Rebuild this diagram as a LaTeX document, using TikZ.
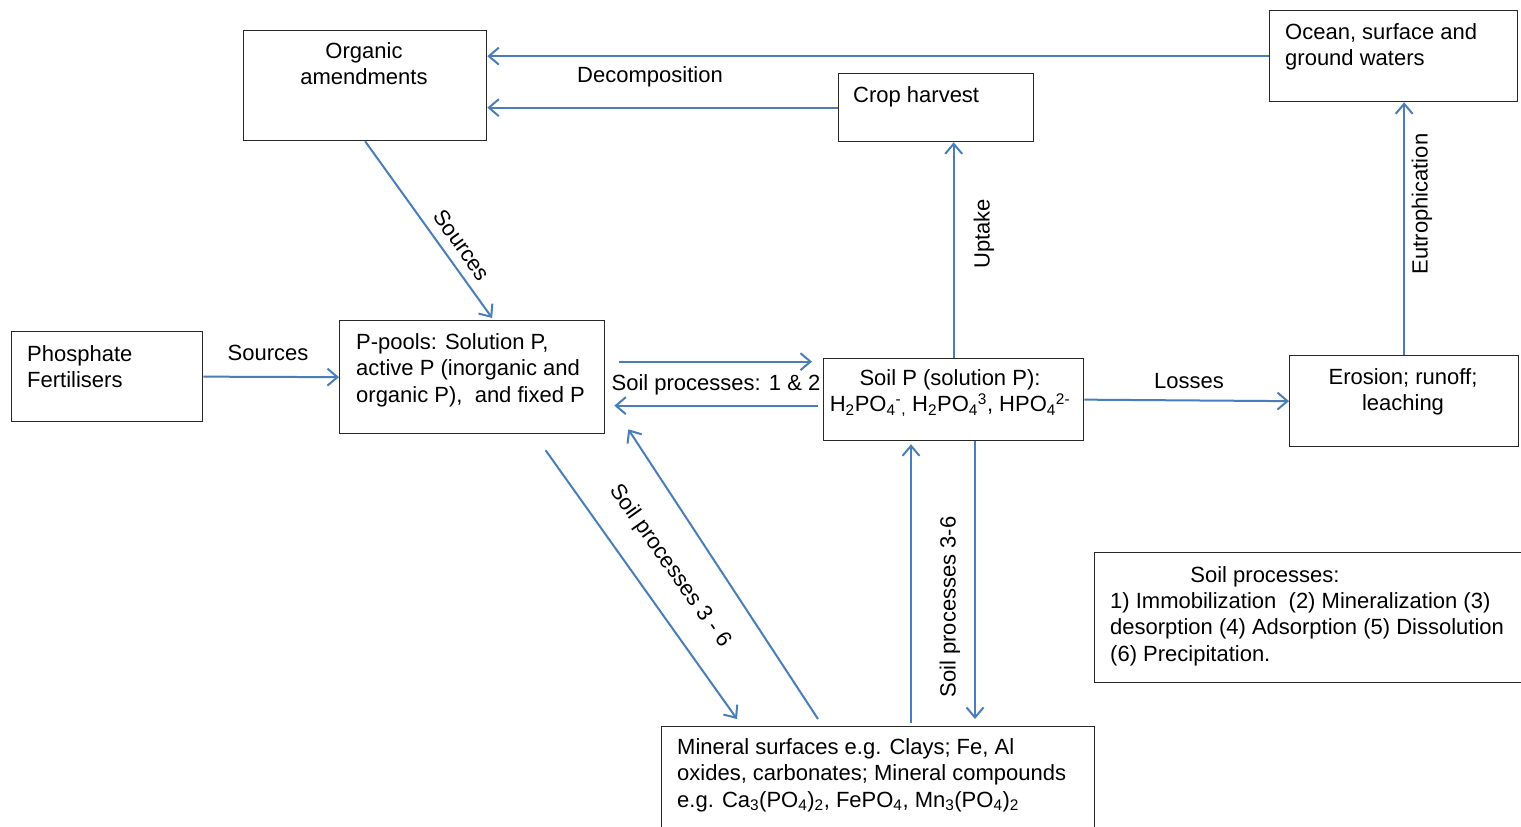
\documentclass[tikz,border=0pt]{standalone}
\usepackage{fontspec}
\setmainfont{Liberation Sans}
\usetikzlibrary{arrows.meta,calc}
\definecolor{flowblue}{RGB}{74,126,187}
\definecolor{edgegray}{RGB}{40,40,40}
\tikzset{
  box/.style={draw=edgegray, line width=1.3pt, anchor=north west, inner sep=0pt},
  txt/.style={inner sep=0pt, font=\fontsize{22}{26.6}\selectfont},
  arr/.style={draw=flowblue, line width=2pt,
    -{Straight Barb[length=10pt,width=17pt,line width=2pt]}}
}
\begin{document}
\begin{tikzpicture}[x=1pt,y=-1pt]
\useasboundingbox (0,0) rectangle (1521,827);
\fill[white] (0,0) rectangle (1521,827);

% boxes
\node[box, minimum width=243pt, minimum height=110pt] (org) at (243,30) {};
\node[box, minimum width=248pt, minimum height=91pt] (ocean) at (1269,10) {};
\node[box, minimum width=195pt, minimum height=68pt] (crop) at (838,73) {};
\node[box, minimum width=191pt, minimum height=90pt] (fert) at (11,331) {};
\node[box, minimum width=265pt, minimum height=113pt] (ppool) at (339,320) {};
\node[box, minimum width=260pt, minimum height=82pt] (soilp) at (823,358) {};
\node[box, minimum width=229pt, minimum height=91pt] (eros) at (1289,355) {};
\node[box, minimum width=440pt, minimum height=130pt] (legend) at (1094,552) {};
\node[box, minimum width=433pt, minimum height=120pt] (mineral) at (661,726) {};

% box texts
\node[txt, anchor=north, align=center] (orgT) at (364,42) {Organic\\amendments};
\node[txt, anchor=north west, align=left] (oceanT) at (1285,23) {Ocean, surface and\\ground waters};
\node[txt, anchor=north west] (cropT) at (853,86) {Crop harvest};
\node[txt, anchor=north west, align=left] (fertT) at (27,345) {Phosphate\\Fertilisers};
\node[txt, anchor=north west, align=left] (ppoolT) at (356,333) {P-pools: Solution P,\\active P (inorganic and\\organic P),\ \ and fixed P};
\node[txt, anchor=north, align=center] (soilpT) at (950,369) {Soil P (solution P):\\H\textsubscript{2}PO\textsubscript{4}\textsuperscript{-}\textsubscript{,} H\textsubscript{2}PO\textsubscript{4}\textsuperscript{3}, HPO\textsubscript{4}\textsuperscript{2-}};
\node[txt, anchor=north, align=center] (erosT) at (1403,368) {Erosion; runoff;\\leaching};
\node[txt, anchor=north] (legendH) at (1265,566) {Soil processes:};
\node[txt, anchor=north west, align=left] (legendT) at (1110,592) {1) Immobilization\ \ (2) Mineralization (3)\\desorption (4) Adsorption (5) Dissolution\\(6) Precipitation.};
\node[txt, anchor=north west, align=left] (mineralT) at (677,738) {Mineral surfaces e.g. Clays; Fe, Al\\oxides, carbonates; Mineral compounds\\e.g. Ca\textsubscript{3}(PO\textsubscript{4})\textsubscript{2}, FePO\textsubscript{4}, Mn\textsubscript{3}(PO\textsubscript{4})\textsubscript{2}};

% connectors
\draw[arr] (ocean.west) -- (org.east |- ocean.west);
\draw[arr] (crop.west) -- (org.east |- crop.west);
\draw[arr] (org.south) -- ($(ppool.north)+(20,-2)$);
\draw[arr] (fert.east) -- (ppool.west);
\draw[arr] ($(ppool.east)+(14,-15.5)$) -- ($(soilp.west)+(-11,-38)$);
\draw[arr] ($(soilp.west)+(-5,6)$) -- ($(ppool.east)+(9,28.5)$);
\draw[arr] (soilp.north) -- (soilp.north |- crop.south);
\draw[arr] (soilp.east) -- (eros.west);
\draw[arr] (eros.north) -- (eros.north |- ocean.south);
\draw[arr] ($(ppool.south)+(73.5,16)$) -- ($(mineral.north west)+(76,-7)$);
\draw[arr] ($(mineral.north west)+(157,-7)$) -- ($(ppool.south east)+(23,-5)$);
\draw[arr] ($(mineral.north west)+(250,-3)$) -- ($(soilp.south west)+(88,3)$);
\draw[arr] ($(soilp.south west)+(152,0)$) -- ($(mineral.north west)+(314,-7)$);

% connector labels
\node[txt] (lDecomp) at (650,77) {Decomposition};
\node[txt] (lSrc1) at (268,353) {Sources};
\node[txt, rotate=-54.6] (lSrc2) at (462,245) {Sources};
\node[txt] (lSp12) at (716,385) {Soil processes: 1 \& 2};
\node[txt] (lLoss) at (1189,381) {Losses};
\node[txt, rotate=90] (lUptake) at (984,234) {Uptake};
\node[txt, rotate=90] (lEutro) at (1422,204) {Eutrophication};
\node[txt, rotate=90] (lSp36v) at (950,607) {Soil processes 3-6};
\node[txt, rotate=-54.6] (lSp36d) at (670,566) {Soil processes 3 - 6};
\end{tikzpicture}
\end{document}
